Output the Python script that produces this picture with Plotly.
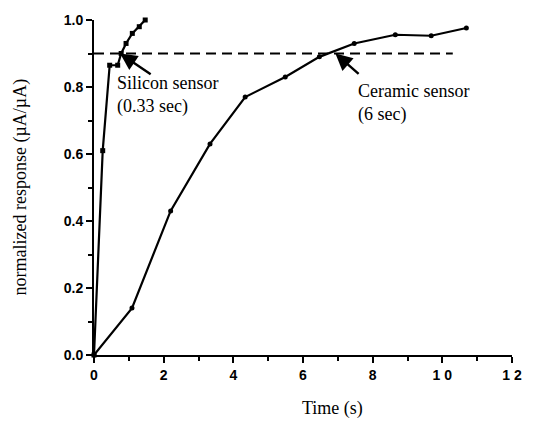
import plotly.graph_objects as go

# Data
ceramic_t = [0.0, 1.09, 2.2, 3.33, 4.34, 5.49, 6.47, 7.47, 8.65, 9.68, 10.69]
ceramic_r = [0.0, 0.14, 0.43, 0.63, 0.77, 0.83, 0.89, 0.93, 0.956, 0.953, 0.976]

silicon_t = [0.0, 0.25, 0.45, 0.68, 0.78, 0.92, 1.1, 1.3, 1.47]
silicon_r = [0.0, 0.61, 0.865, 0.865, 0.9, 0.93, 0.96, 0.98, 1.0]

ref_t = [0.0, 10.3]
ref_r = [0.9, 0.9]

x_ticks = [0, 2, 4, 6, 8, 10, 12]
x_tick_text = ["0", "2", "4", "6", "8", "1 0", "1 2"]
y_ticks = [0.0, 0.2, 0.4, 0.6, 0.8, 1.0]
y_tick_text = ["0.0", "0.2", "0.4", "0.6", "0.8", "1.0"]

serif = "Liberation Serif, Times New Roman, serif"
sans = "Liberation Sans, Arial, sans-serif"

fig = go.Figure()
fig.add_trace(go.Scatter(x=ref_t, y=ref_r, mode="lines",
                         line=dict(color="black", width=2, dash="10px,6px"),
                         cliponaxis=False, showlegend=False))
fig.add_trace(go.Scatter(x=ceramic_t, y=ceramic_r, mode="lines+markers",
                         line=dict(color="black", width=2.2),
                         marker=dict(symbol="circle", size=5, color="black"),
                         cliponaxis=False, showlegend=False))
fig.add_trace(go.Scatter(x=silicon_t, y=silicon_r, mode="lines+markers",
                         line=dict(color="black", width=2.2),
                         marker=dict(symbol="square", size=5, color="black"),
                         cliponaxis=False, showlegend=False))

fig.add_annotation(x=0.75, y=0.9, ax=1.67, ay=0.835, xref="x", yref="y",
                   axref="x", ayref="y", text="", showarrow=True,
                   arrowhead=2, arrowsize=1.4, arrowwidth=2.4, arrowcolor="black")
fig.add_annotation(x=6.93, y=0.9, ax=7.64, ay=0.835, xref="x", yref="y",
                   axref="x", ayref="y", text="", showarrow=True,
                   arrowhead=2, arrowsize=1.4, arrowwidth=2.4, arrowcolor="black")

fig.add_annotation(x=0.6, y=0.775, xref="x", yref="y", xanchor="left", yanchor="middle",
                   text="Silicon sensor<br>(0.33 sec)", showarrow=False, align="left",
                   font=dict(family=serif, size=18, color="black"))
fig.add_annotation(x=7.53, y=0.752, xref="x", yref="y", xanchor="left", yanchor="middle",
                   text="Ceramic sensor<br>(6 sec)", showarrow=False, align="left",
                   font=dict(family=serif, size=18, color="black"))

fig.add_annotation(x=-0.177, y=0.5, xref="paper", yref="paper", xanchor="center",
                   yanchor="middle", textangle=-90, showarrow=False,
                   text="normalized response (\u00b5A/\u00b5A)",
                   font=dict(family=serif, size=18, color="black"))
fig.add_annotation(x=0.57, y=-0.16, xref="paper", yref="paper", xanchor="center",
                   yanchor="middle", showarrow=False, text="Time (s)",
                   font=dict(family=serif, size=18, color="black"))

fig.update_xaxes(range=[0, 12], tickvals=x_ticks, ticktext=x_tick_text,
                 ticks="outside", ticklen=6, tickwidth=2, tickcolor="black",
                 showline=True, linecolor="black", linewidth=2, showgrid=False,
                 zeroline=False,
                 minor=dict(dtick=1, ticks="outside", ticklen=4, tickwidth=2, tickcolor="black"),
                 tickfont=dict(family=sans, size=14, color="black", weight="bold"))
fig.update_yaxes(range=[0, 1], tickvals=y_ticks, ticktext=y_tick_text,
                 ticks="outside", ticklen=6, tickwidth=2, tickcolor="black",
                 showline=True, linecolor="black", linewidth=2, showgrid=False,
                 zeroline=False,
                 minor=dict(dtick=0.1, ticks="outside", ticklen=4, tickwidth=2, tickcolor="black"),
                 tickfont=dict(family=sans, size=14, color="black", weight="bold"))

fig.update_layout(width=541, height=422, margin=dict(l=94, r=29, t=16, b=67),
                  plot_bgcolor="white", paper_bgcolor="white")

fig.write_html("out.html")
